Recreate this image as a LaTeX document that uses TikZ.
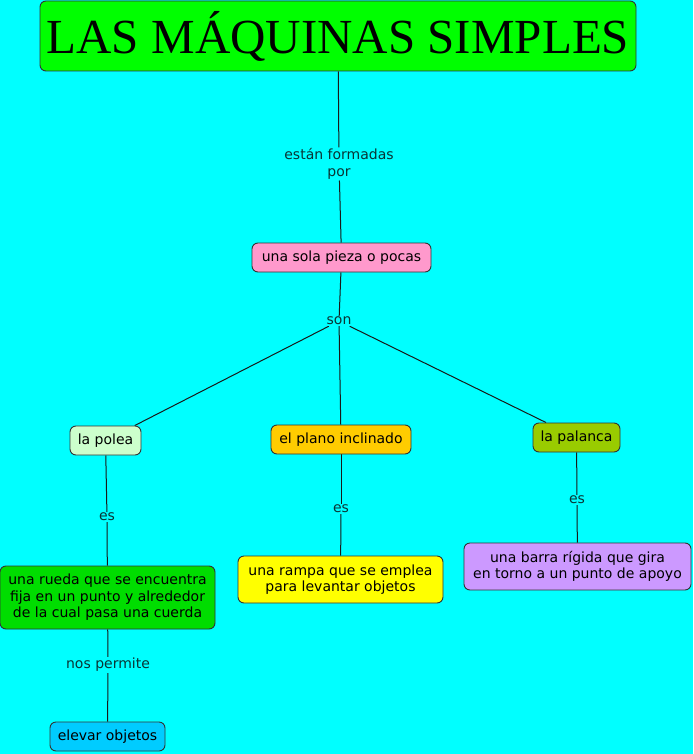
\documentclass[tikz,border=0pt]{standalone}
\usepackage{fontspec}
\setmainfont{DejaVu Sans}
\newfontfamily\titlefont{Liberation Serif}
\usetikzlibrary{backgrounds}
\definecolor{bgc}{HTML}{00FFFF}
\definecolor{cTitle}{HTML}{00FF00}
\definecolor{cPink}{HTML}{FF99CC}
\definecolor{cPolea}{HTML}{CCFFCC}
\definecolor{cPlano}{HTML}{FFCC00}
\definecolor{cPalanca}{HTML}{99CC00}
\definecolor{cRueda}{HTML}{00DD00}
\definecolor{cRampa}{HTML}{FFFF00}
\definecolor{cBarra}{HTML}{CC99FF}
\definecolor{cElevar}{HTML}{00CCFF}
\definecolor{lblc}{HTML}{0A3535}
\begin{document}
\begin{tikzpicture}[x=1pt,y=-1pt,
  concept/.style={draw=black!80, line width=0.9pt, rounded corners=6pt, inner sep=0pt,
    font=\fontsize{14}{16.5}\selectfont, align=center, text=black},
  lbl/.style={fill=bgc, inner sep=1pt, font=\fontsize{14}{16.5}\selectfont, align=center, text=lblc},
  link/.style={draw=black!90, line width=1pt}]
\useasboundingbox (0,0) rectangle (693,754);

\node[concept, fill=cTitle, minimum width=596pt, minimum height=70pt, font=\titlefont\fontsize{49}{52}\selectfont] (title) at (338,36) {LAS MÁQUINAS SIMPLES};
\node[lbl] (l1) at (339,164) {están formadas\\por};
\node[concept, fill=cPink, minimum width=179pt, minimum height=29pt] (pieza) at (341.5,257.5) {una sola pieza o pocas};
\node[lbl] (son) at (339,321) {son};
\node[concept, fill=cPolea, minimum width=71pt, minimum height=29pt] (polea) at (105.5,440.5) {la polea};
\node[concept, fill=cPlano, minimum width=140pt, minimum height=29pt] (plano) at (341,439.5) {el plano inclinado};
\node[concept, fill=cPalanca, minimum width=87pt, minimum height=29pt] (palanca) at (576.5,437.5) {la palanca};
\node[lbl] (es1) at (107,517) {es};
\node[lbl] (es2) at (341,509) {es};
\node[lbl] (es3) at (577,500) {es};
\node[concept, fill=cRueda, minimum width=215pt, minimum height=63pt] (rueda) at (107.5,597.5) {una rueda que se encuentra\\fija en un punto y alrededor\\de la cual pasa una cuerda};
\node[concept, fill=cRampa, minimum width=205pt, minimum height=47pt] (rampa) at (340.5,579.5) {una rampa que se emplea\\para levantar objetos};
\node[concept, fill=cBarra, minimum width=227pt, minimum height=47pt] (barra) at (577.5,566.5) {una barra rígida que gira\\en torno a un punto de apoyo};
\node[lbl] (nos) at (108,665) {nos permite};
\node[concept, fill=cElevar, minimum width=115pt, minimum height=29pt] (elevar) at (107.5,736.5) {elevar objetos};

\begin{scope}[on background layer]
\fill[bgc] (0,0) rectangle (693,754);
\draw[link] (title) -- (l1);
\draw[link] (l1) -- (pieza);
\draw[link] (pieza) -- (son);
\draw[link] (son) -- (polea);
\draw[link] (son) -- (plano);
\draw[link] (son) -- (palanca);
\draw[link] (polea) -- (es1);
\draw[link] (es1) -- (rueda);
\draw[link] (plano) -- (es2);
\draw[link] (es2) -- (rampa);
\draw[link] (palanca) -- (es3);
\draw[link] (es3) -- (barra);
\draw[link] (rueda) -- (nos);
\draw[link] (nos) -- (elevar);
\end{scope}
\end{tikzpicture}
\end{document}
